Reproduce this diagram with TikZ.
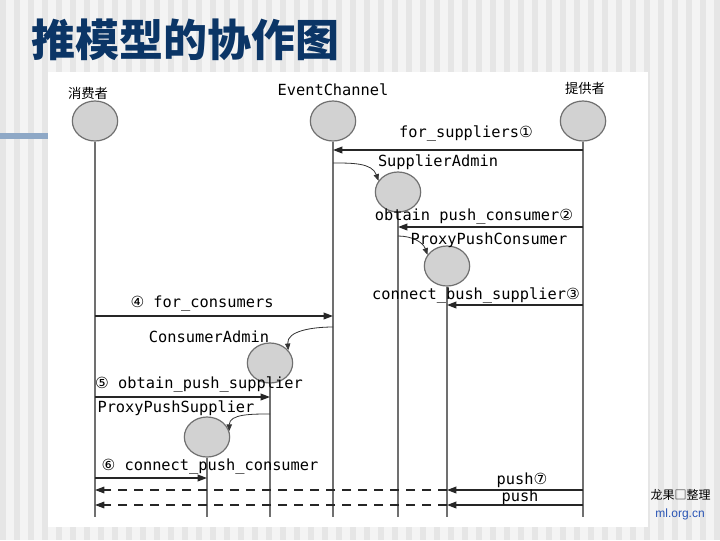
\documentclass[tikz,border=0pt]{standalone}
\usepackage{fontspec}
\usepackage{xcolor}
\usetikzlibrary{arrows.meta,shapes.geometric}
\newfontfamily\cjk{Noto Sans CJK SC}
\newfontfamily\circfont{DejaVu Sans}
\setmonofont{DejaVu Sans Mono}
\setsansfont{Liberation Sans}
\definecolor{Navy}{HTML}{0B3566}
\definecolor{StripeA}{HTML}{F4F4F4}
\definecolor{StripeB}{HTML}{E6E6E6}
\definecolor{BarBlue}{HTML}{8EA8C6}
\definecolor{Life}{HTML}{707070}
\definecolor{ObjFill}{HTML}{D2D2D2}
\definecolor{LinkBlue}{HTML}{2A55B5}
\tikzset{
 obj/.style={ellipse, draw=Life, line width=0.9pt, fill=ObjFill, minimum width=34pt, minimum height=30pt, inner sep=0pt},
 lifeline/.style={draw=Life, line width=1.3pt},
 msg/.style={-{Triangle[length=7pt,width=5pt]}, line width=1.1pt, draw=black!85},
 retmsg/.style={msg, dash pattern=on 7pt off 5pt, line width=0.8pt},
 create/.style={-{Triangle[length=5pt,width=4pt]}, line width=0.6pt, draw=black!80},
 lbl/.style={font=\ttfamily\fontsize{11.5}{13}\selectfont, inner sep=1pt},
 cjklbl/.style={font=\cjk\fontsize{10}{12}\selectfont, inner sep=1pt}
}
\newcommand{\cn}[1]{{\circfont #1}}

\begin{document}
\begin{tikzpicture}[x=0.75pt,y=-0.75pt]
\useasboundingbox (0,0) rectangle (720,540);
\fill[StripeA] (0,0) rectangle (720,540);
\foreach \sx in {0,14,...,714} \fill[StripeB] (\sx,0) rectangle ++(6,540);
\fill[BarBlue] (0,133) rectangle (48,139);
\node[anchor=east, font=\cjk\fontsize{9}{10}\selectfont, inner sep=0pt] (credit) at (711,495) {龙果□整理};
\node[anchor=east, font=\sffamily\fontsize{9}{10}\selectfont, text=LinkBlue, inner sep=0pt] (site) at (705,514) {ml.org.cn};
\fill[white] (48,72) rectangle (648,527);
\node[anchor=west, text=Navy, font=\cjk\bfseries\fontsize{33}{36}\selectfont, inner sep=0pt] (title) at (31,40) {推模型的协作图};

\node[obj] (cons) at (95,121) {};
\node[obj] (ec) at (333,121) {};
\node[obj] (sup) at (583,121) {};
\node[obj] (sa) at (398,192) {};
\node[obj] (ppc) at (447,266) {};
\node[obj] (ca) at (270,363) {};
\node[obj] (pps) at (207,437) {};
\node[cjklbl] (consname) at (88,93) {消费者};
\node[lbl] (ecname) at (333,90) {EventChannel};
\node[cjklbl] (supname) at (585,88) {提供者};

\coordinate (bot) at (0,517);
\foreach \o in {cons,ec,sup,sa,ppc,ca,pps}
  \draw[lifeline] (\o.south) -- (\o |- bot);

\foreach \n/\y in {m1/150,m2/227,m3/305,m4/316,m5/397,m6/478,m7/490,m8/505,c1/163,c2/236,c3/327,c4/414}
  \coordinate (\n) at (0,\y);

\draw[msg] (sup |- m1) -- (ec |- m1);
\draw[msg] (sup |- m2) -- (sa |- m2);
\draw[msg] (sup |- m3) -- (ppc |- m3);
\draw[msg] (cons |- m4) -- (ec |- m4);
\draw[msg] (cons |- m5) -- (ca |- m5);
\draw[msg] (cons |- m6) -- (pps |- m6);
\draw[msg] (sup |- m7) -- (ppc |- m7);
\draw[retmsg] (ppc |- m7) -- (cons |- m7);
\draw[msg] (sup |- m8) -- (ppc |- m8);
\draw[retmsg] (ppc |- m8) -- (cons |- m8);

\draw[create] (ec |- c1) to[out=0,in=110] (sa.150);
\draw[create] (sa |- c2) to[out=0,in=110] (ppc.150);
\draw[create] (ec |- c3) to[out=180,in=95] (ca.35);
\draw[create] (ca |- c4) to[out=180,in=90] (pps.15);

\node[lbl] (l1) at (466,133) {for\_suppliers\cn{①}};
\node[lbl] (l2) at (438,162) {SupplierAdmin};
\node[lbl] (l3) at (474,216) {obtain push\_consumer\cn{②}};
\node[lbl] (l4) at (489,240) {ProxyPushConsumer};
\node[lbl] (l5) at (476,295) {connect\_bush\_supplier\cn{③}};
\node[lbl] (l6) at (202,303) {\cn{④} for\_consumers};
\node[lbl] (l7) at (209,337) {ConsumerAdmin};
\node[lbl] (l8) at (199,384) {\cn{⑤} obtain\_push\_supplier};
\node[lbl] (l9) at (176,408) {ProxyPushSupplier};
\node[lbl] (l10) at (210,466) {\cn{⑥} connect\_push\_consumer};
\node[lbl] (l11) at (522,480) {push\cn{⑦}};
\node[lbl] (l12) at (520,497) {push};
\end{tikzpicture}
\end{document}
